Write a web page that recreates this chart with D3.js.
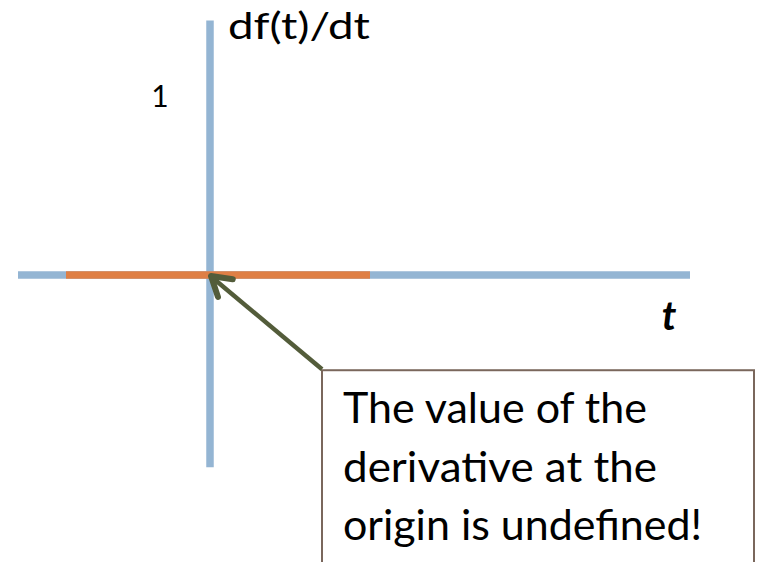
<!DOCTYPE html>
<html lang="en">
<head>
    <meta charset="UTF-8">
    <title>Derivative of f(t)</title>
    <script src="https://d3js.org/d3.v7.js"></script>
    <style>
        body { margin: 0; background: #fff; }
        text { font-family: "Lato", "Noto Sans", sans-serif; fill: #000; }
    </style>
</head>
<body>
<svg></svg>
<script>
    // chart values
    const tRange = [-1.2, 3];          // extent of the t axis
    const yRange = [-1.08, 1.43];      // extent of the df/dt axis
    const derivT = [-0.9, 1];          // where the derivative is drawn
    const derivValue = 0;              // value of df(t)/dt there
    const yTicks = [1];
    const yLabel = "df(t)/dt";
    const xLabel = "t";
    const noteLines = ["The value of the", "derivative at the", "origin is undefined!"];
    const notePoint = [0, 0];          // arrow points at the origin
    const noteAnchor = [0.7, -0.535];  // corner of the note box

    const width = 759, height = 562;
    const svg = d3.select("svg").attr("width", width).attr("height", height);

    const x = d3.scaleLinear().domain([0, 1]).range([210, 370]);
    const y = d3.scaleLinear().domain([0, 1]).range([275, 97]);

    const axisColor = "#94b5d3";

    // axes as thick lines
    svg.append("line")
        .attr("x1", x(tRange[0])).attr("x2", x(tRange[1]))
        .attr("y1", y(0)).attr("y2", y(0))
        .attr("stroke", axisColor).attr("stroke-width", 7.5);
    svg.append("line")
        .attr("x1", x(0)).attr("x2", x(0))
        .attr("y1", y(yRange[1])).attr("y2", y(yRange[0]))
        .attr("stroke", axisColor).attr("stroke-width", 7.5);

    // the derivative
    svg.append("line")
        .attr("x1", x(derivT[0])).attr("x2", x(derivT[1]))
        .attr("y1", y(derivValue)).attr("y2", y(derivValue))
        .attr("stroke", "#df7f45").attr("stroke-width", 7.5);

    // labels
    svg.selectAll("text.ytick")
        .data(yTicks)
        .join("text")
        .attr("class", "ytick")
        .attr("x", 160).attr("y", d => y(d) + 10)
        .attr("text-anchor", "middle")
        .style("font-size", "30px")
        .text(d => d);

    svg.append("text")
        .attr("x", 228).attr("y", 39)
        .attr("textLength", 142).attr("lengthAdjust", "spacingAndGlyphs")
        .style("font-size", "36px")
        .text(yLabel);

    svg.append("text")
        .attr("x", 669).attr("y", 330)
        .attr("text-anchor", "middle")
        .style("font-size", "40px").style("font-style", "italic").style("font-weight", "bold")
        .text(xLabel);

    // note box
    const bx = x(noteAnchor[0]), by = y(noteAnchor[1]);
    svg.append("rect")
        .attr("x", bx).attr("y", by)
        .attr("width", 432).attr("height", height - by + 20)
        .attr("fill", "#fff").attr("stroke", "#7a675c").attr("stroke-width", 2);

    svg.selectAll("text.note")
        .data(noteLines)
        .join("text")
        .attr("class", "note")
        .attr("x", bx + 21)
        .attr("y", (d, i) => by + 53 + i * 58.5)
        .attr("textLength", (d, i) => [304, 314, 359][i])
        .attr("lengthAdjust", "spacingAndGlyphs")
        .style("font-size", "43px")
        .text(d => d);

    // arrow from box corner to origin
    const arrowColor = "#535c3a";
    const tip = [x(notePoint[0]) + 1, y(notePoint[1]) + 1];
    const tail = [bx, by - 1];
    svg.append("line")
        .attr("x1", tail[0]).attr("y1", tail[1])
        .attr("x2", tip[0] + 3).attr("y2", tip[1] + 3)
        .attr("stroke", arrowColor).attr("stroke-width", 4.5);
    const ang = Math.atan2(tail[1] - tip[1], tail[0] - tip[0]);
    const headLen = 22, spread = 0.55;
    const head = d3.line()([
        [tip[0] + headLen * Math.cos(ang - spread), tip[1] + headLen * Math.sin(ang - spread)],
        tip,
        [tip[0] + headLen * Math.cos(ang + spread), tip[1] + headLen * Math.sin(ang + spread)]
    ]);
    svg.append("path")
        .attr("d", head)
        .attr("fill", "none").attr("stroke", arrowColor)
        .attr("stroke-width", 6).attr("stroke-linecap", "round").attr("stroke-linejoin", "round");
</script>
</body>
</html>
